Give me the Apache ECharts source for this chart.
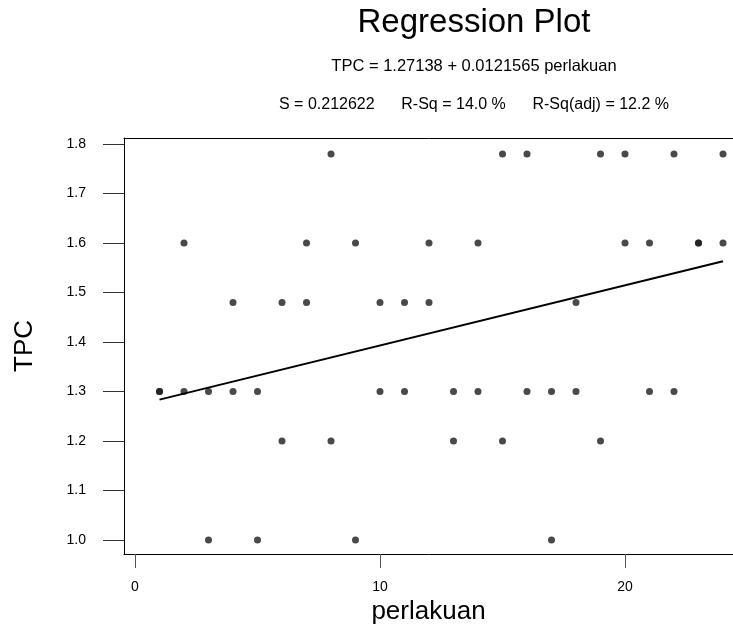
<!DOCTYPE html>
<html>
<head>
<meta charset="utf-8">
<script src="https://cdn.jsdelivr.net/npm/echarts@6/dist/echarts.min.js"></script>
<style>html,body{margin:0;padding:0;background:#fff;}#c{width:733px;height:631px;}</style>
</head>
<body>
<div id="c"></div>
<script>
var perlakuan = [1,1,2,2,3,3,4,4,5,5,6,6,7,7,8,8,9,9,10,10,11,11,12,12,13,13,14,14,15,15,16,16,17,17,18,18,19,19,20,20,21,21,22,22,23,23,24,24];
var tpc = [1.30,1.30, 1.60,1.30, 1.30,1.00, 1.48,1.30, 1.30,1.00, 1.48,1.20, 1.60,1.48, 1.78,1.20, 1.60,1.00, 1.48,1.30, 1.48,1.30, 1.60,1.48, 1.30,1.20, 1.60,1.30, 1.78,1.20, 1.78,1.30, 1.30,1.00, 1.48,1.30, 1.78,1.20, 1.78,1.60, 1.60,1.30, 1.78,1.30, 1.60,1.60, 1.78,1.60];
var intercept = 1.27138;
var slope = 0.0121565;
var xTicks = [0, 10, 20];
var yTicks = [1.0, 1.1, 1.2, 1.3, 1.4, 1.5, 1.6, 1.7, 1.8];
var titleText = 'Regression Plot';
var eqText = 'TPC = 1.27138 + 0.0121565 perlakuan';
var statText = 'S = 0.212622      R-Sq = 14.0 %      R-Sq(adj) = 12.2 %';

var pts = perlakuan.map(function (x, i) { return [x, tpc[i]]; });
var xMin = Math.min.apply(null, perlakuan), xMax = Math.max.apply(null, perlakuan);
var fit = [[xMin, intercept + slope * xMin], [xMax, intercept + slope * xMax]];
var FONT = 'Liberation Sans, Arial, sans-serif';

var chart = echarts.init(document.getElementById('c'));
chart.setOption({
  animation: false,
  backgroundColor: '#fff',
  grid: { left: 124, top: 138, right: 0, bottom: 77 },
  graphic: [
    { type: 'text', x: 474, y: 23, style: { text: titleText, font: '33px ' + FONT, fill: '#000', textAlign: 'center', textVerticalAlign: 'middle' } },
    { type: 'text', x: 474, y: 66, style: { text: eqText, font: '16.5px ' + FONT, fill: '#000', textAlign: 'center', textVerticalAlign: 'middle' } },
    { type: 'text', x: 474, y: 105, style: { text: statText, font: '16px ' + FONT, fill: '#000', textAlign: 'center', textVerticalAlign: 'middle' } }
  ],
  xAxis: [{
    type: 'value', min: -0.449, max: 24.408, position: 'bottom',
    name: 'perlakuan', nameLocation: 'middle', nameGap: 44,
    nameTextStyle: { fontFamily: FONT, fontSize: 26, color: '#000' },
    axisLine: { show: true, onZero: false, lineStyle: { color: '#000', width: 1 } },
    axisTick: { show: true, length: 14, lineStyle: { color: '#555' }, customValues: xTicks },
    axisLabel: { show: true, customValues: xTicks, margin: 26, fontFamily: FONT, fontSize: 14, color: '#000', formatter: function (v) { return String(v); } },
    splitLine: { show: false }
  }, {
    type: 'value', min: -0.449, max: 24.408, position: 'top',
    axisLine: { show: true, onZero: false, lineStyle: { color: '#000', width: 1 } },
    axisTick: { show: false }, axisLabel: { show: false }, splitLine: { show: false }
  }],
  yAxis: {
    type: 'value', min: 0.9717, max: 1.8121,
    name: 'TPC', nameLocation: 'middle', nameGap: 86,
    nameTextStyle: { fontFamily: FONT, fontSize: 26, color: '#000' },
    axisLine: { show: true, onZero: false, lineStyle: { color: '#000', width: 1 } },
    axisTick: { show: true, length: 21, lineStyle: { color: '#333' }, customValues: yTicks },
    axisLabel: { show: true, customValues: yTicks, margin: 38, fontFamily: FONT, fontSize: 14, color: '#000', formatter: function (v) { return v.toFixed(1); } },
    splitLine: { show: false }
  },
  series: [{
    type: 'scatter', data: pts, symbol: 'circle', symbolSize: 7,
    itemStyle: { color: '#1c1c1c' }, xAxisIndex: 0
  }, {
    type: 'line', data: fit, symbol: 'none', xAxisIndex: 0,
    lineStyle: { color: '#000', width: 2 }
  }]
});
</script>
</body>
</html>
